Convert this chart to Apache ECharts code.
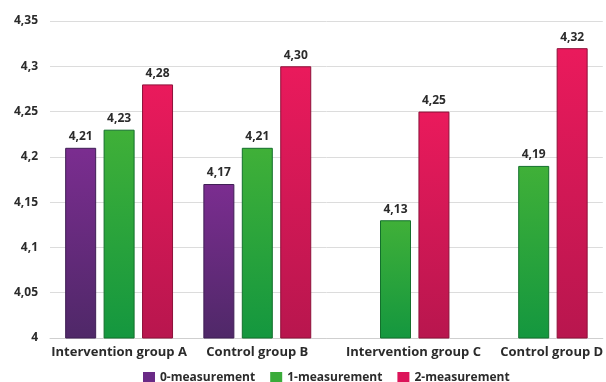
<!DOCTYPE html>
<html>
<head>
<meta charset="utf-8">
<script src="https://cdn.jsdelivr.net/npm/echarts@6/dist/echarts.min.js"></script>
<style>
  html, body { margin: 0; padding: 0; background: #fff; }
  #chart { width: 606px; height: 382px; }
</style>
</head>
<body>
<div id="chart"></div>
<script>
// Groups along the x axis
const categories = ['Intervention group A', 'Control group B', 'Intervention group C', 'Control group D'];

// Mean scores per measurement (null = not measured)
const measurement0 = [4.21, 4.17, null, null];
const measurement1 = [4.23, 4.21, 4.13, 4.19];
const measurement2 = [4.28, 4.30, 4.25, 4.32];

const seriesNames = ['0-measurement', '1-measurement', '2-measurement'];

const FONT = '"Open Sans", "DejaVu Sans", sans-serif';

function comma(v, digits) {
  return (digits == null ? String(v) : v.toFixed(digits)).replace('.', ',');
}

function barGradient(top, bottom) {
  return new echarts.graphic.LinearGradient(0, 0, 0, 1, [
    { offset: 0, color: top },
    { offset: 1, color: bottom }
  ]);
}

const palette = [
  { top: '#7b2d90', bottom: '#4f2868', border: '#3f1f55', legend: '#6a2a86' },
  { top: '#40b038', bottom: '#14973f', border: '#13702c', legend: '#3aab3a' },
  { top: '#ea1a5c', bottom: '#b8164e', border: '#8e1039', legend: '#dc1459' }
];

function makeSeries(name, data, c) {
  return {
    name: name,
    type: 'bar',
    data: data,
    barWidth: 31,
    barGap: '24%',
    itemStyle: {
      color: barGradient(c.top, c.bottom),
      borderColor: c.border,
      borderWidth: 1
    },
    label: {
      show: true,
      position: 'top',
      distance: 5,
      fontFamily: FONT,
      fontWeight: 'bold',
      fontSize: 12,
      color: '#2b2b2b',
      formatter: p => comma(p.value, 2)
    }
  };
}

const chart = echarts.init(document.getElementById('chart'), null, { renderer: 'canvas' });

chart.setOption({
  animation: false,
  backgroundColor: '#ffffff',
  grid: { left: 50, right: 2, top: 21, bottom: 44, containLabel: false },
  legend: {
    data: seriesNames.map((n, i) => ({ name: n, itemStyle: { color: palette[i].legend, borderWidth: 0 } })),
    left: 138,
    bottom: -7,
    itemWidth: 12,
    itemHeight: 12,
    itemGap: 15,
    icon: 'rect',
    textStyle: { fontFamily: FONT, fontWeight: 'bold', fontSize: 12, color: '#2b2b2b' }
  },
  xAxis: {
    type: 'category',
    data: categories,
    axisLine: { show: true, lineStyle: { color: '#cfcfcf', width: 1 } },
    axisTick: { show: false },
    axisLabel: {
      interval: 0,
      margin: 8,
      fontFamily: FONT,
      fontWeight: 'bold',
      fontSize: 13,
      color: '#2b2b2b',
      formatter: (v, i) => i >= 2 ? '{s|' + v + '}' : v,
      rich: {
        s: { fontFamily: FONT, fontWeight: 'bold', fontSize: 13, color: '#2b2b2b', padding: [0, 0, 0, 36] }
      }
    }
  },
  yAxis: {
    type: 'value',
    min: 4,
    max: 4.35,
    interval: 0.05,
    axisLine: { show: false },
    axisTick: { show: false },
    splitLine: { lineStyle: { color: '#dcdcdc', width: 1 } },
    axisLabel: {
      margin: 12,
      fontFamily: FONT,
      fontWeight: 'bold',
      fontSize: 12,
      color: '#2b2b2b',
      formatter: v => comma(Math.round(v * 100) / 100)
    }
  },
  series: [
    makeSeries(seriesNames[0], measurement0, palette[0]),
    makeSeries(seriesNames[1], measurement1, palette[1]),
    makeSeries(seriesNames[2], measurement2, palette[2])
  ]
});
</script>
</body>
</html>
